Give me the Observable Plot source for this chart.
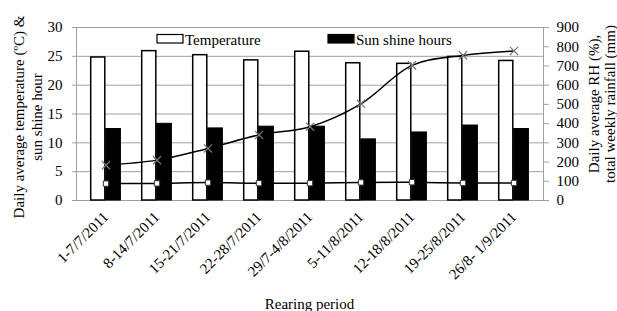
<!DOCTYPE html>
<html>
<head>
<meta charset="utf-8">
<script src="https://cdn.jsdelivr.net/npm/d3@7"></script>
<script src="https://cdn.jsdelivr.net/npm/@observablehq/plot@0.6"></script>
<style>
  html, body { margin: 0; padding: 0; background: white; }
  #chart { width: 617px; height: 311px; overflow: hidden; }
  #chart svg, #chart svg text { font-family: "Liberation Serif", "Times New Roman", serif !important; }
</style>
</head>
<body>
<div id="chart"></div>
<script>
const categories = ["1-7/7/2011", "8-14/7/2011", "15-21/7/2011", "22-28/7/2011", "29/7-4/8/2011", "5-11/8/2011", "12-18/8/2011", "19-25/8/2011", "26/8- 1/9/2011"];
const temperature = [24.8, 25.9, 25.2, 24.3, 25.8, 23.8, 23.7, 24.9, 24.2];
const sunshine = [12.4, 13.3, 12.5, 12.8, 12.8, 10.6, 11.8, 13.0, 12.4];
const rainfall = [184, 210, 271, 341, 384, 503, 703, 755, 778];
const humidity = [88, 89, 93, 90, 90, 94, 95, 91, 91];
const leftTicks = [0, 5, 10, 15, 20, 25, 30];
const rightTicks = [0, 100, 200, 300, 400, 500, 600, 700, 800, 900];

const rows = categories.map((c, i) => ({cat: c, temp: temperature[i], sun: sunshine[i], rain: rainfall[i], rh: humidity[i]}));
const ratio = 900 / 30;
const font = "'Liberation Serif', 'Times New Roman', serif";

const chart = Plot.plot({
  width: 617,
  height: 311,
  marginLeft: 76,
  marginRight: 74,
  marginTop: 27,
  marginBottom: 111,
  style: {fontFamily: font, fontSize: "15px", background: "white", color: "black"},
  x: {type: "band", domain: categories, padding: 0},
  y: {domain: [0, 30]},
  marks: [
    Plot.gridY(leftTicks, {stroke: "#a0a0a0", strokeOpacity: 1}),
    Plot.frame({stroke: "#a0a0a0"}),
    Plot.barY(rows, {x: "cat", y: "temp", fill: "white", stroke: "black", strokeWidth: 1.5, insetLeft: 10.7, insetRight: 26.2}),
    Plot.barY(rows, {x: "cat", y: "sun", fill: "black", stroke: "black", strokeWidth: 1, insetLeft: 25.7, insetRight: 10.6}),
    Plot.line(rows, {x: "cat", y: d => d.rain / ratio, stroke: "black", strokeWidth: 1.5, curve: "catmull-rom"}),
    Plot.dot(rows, {x: "cat", y: d => d.rain / ratio, symbol: "times", r: 3.8, stroke: "#777", strokeWidth: 1.2}),
    Plot.line(rows, {x: "cat", y: d => d.rh / ratio, stroke: "black", strokeWidth: 1.5, curve: "catmull-rom"}),
    Plot.dot(rows, {x: "cat", y: d => d.rh / ratio, symbol: "square", r: 3, fill: "white", stroke: "#333", strokeWidth: 1}),
    Plot.axisY({anchor: "left", ticks: leftTicks, tickSize: 4, tickPadding: 10, stroke: "#a0a0a0", label: null, fontSize: 15}),
    Plot.axisY({anchor: "right", ticks: rightTicks.map(v => v / ratio), tickFormat: d => Math.round(d * ratio), tickSize: 5, tickPadding: 8, stroke: "#a0a0a0", label: null, fontSize: 15}),
    Plot.axisX({tickRotate: -45, tickSize: 0, tickPadding: 14, label: null, fontSize: 15})
  ]
});

const svg = d3.select(chart);
function addText(x, y, txt, rot, anchor) {
  svg.append("text")
    .attr("transform", `translate(${x},${y}) rotate(${rot})`)
    .attr("text-anchor", anchor)
    .attr("dy", "0.35em")
    .attr("font-size", 15)
    .attr("fill", "black")
    .text(txt);
}
addText(19, 117, "Daily average temperature (ºC) &", -90, "middle");
addText(37, 117, "sun shine hour", -90, "middle");
addText(594, 104, "Daily average RH (%),", -90, "middle");
addText(610, 104, "total weekly rainfall (mm)", -90, "middle");
addText(309.5, 303.5, "Rearing period", 0, "middle");

// legend
const legend = [
  {label: "Temperature", fill: "white", x: 157},
  {label: "Sun shine hours", fill: "black", x: 328}
];
legend.forEach(l => {
  svg.append("rect").attr("x", l.x).attr("y", 34.5).attr("width", 26).attr("height", 8.5)
    .attr("fill", l.fill).attr("stroke", "black").attr("stroke-width", 1.2);
  svg.append("text").attr("x", l.x + 28).attr("y", 44.5).attr("text-anchor", "start")
    .attr("font-size", 15).attr("fill", "black").text(l.label);
});

document.getElementById("chart").appendChild(chart);
</script>
</body>
</html>
